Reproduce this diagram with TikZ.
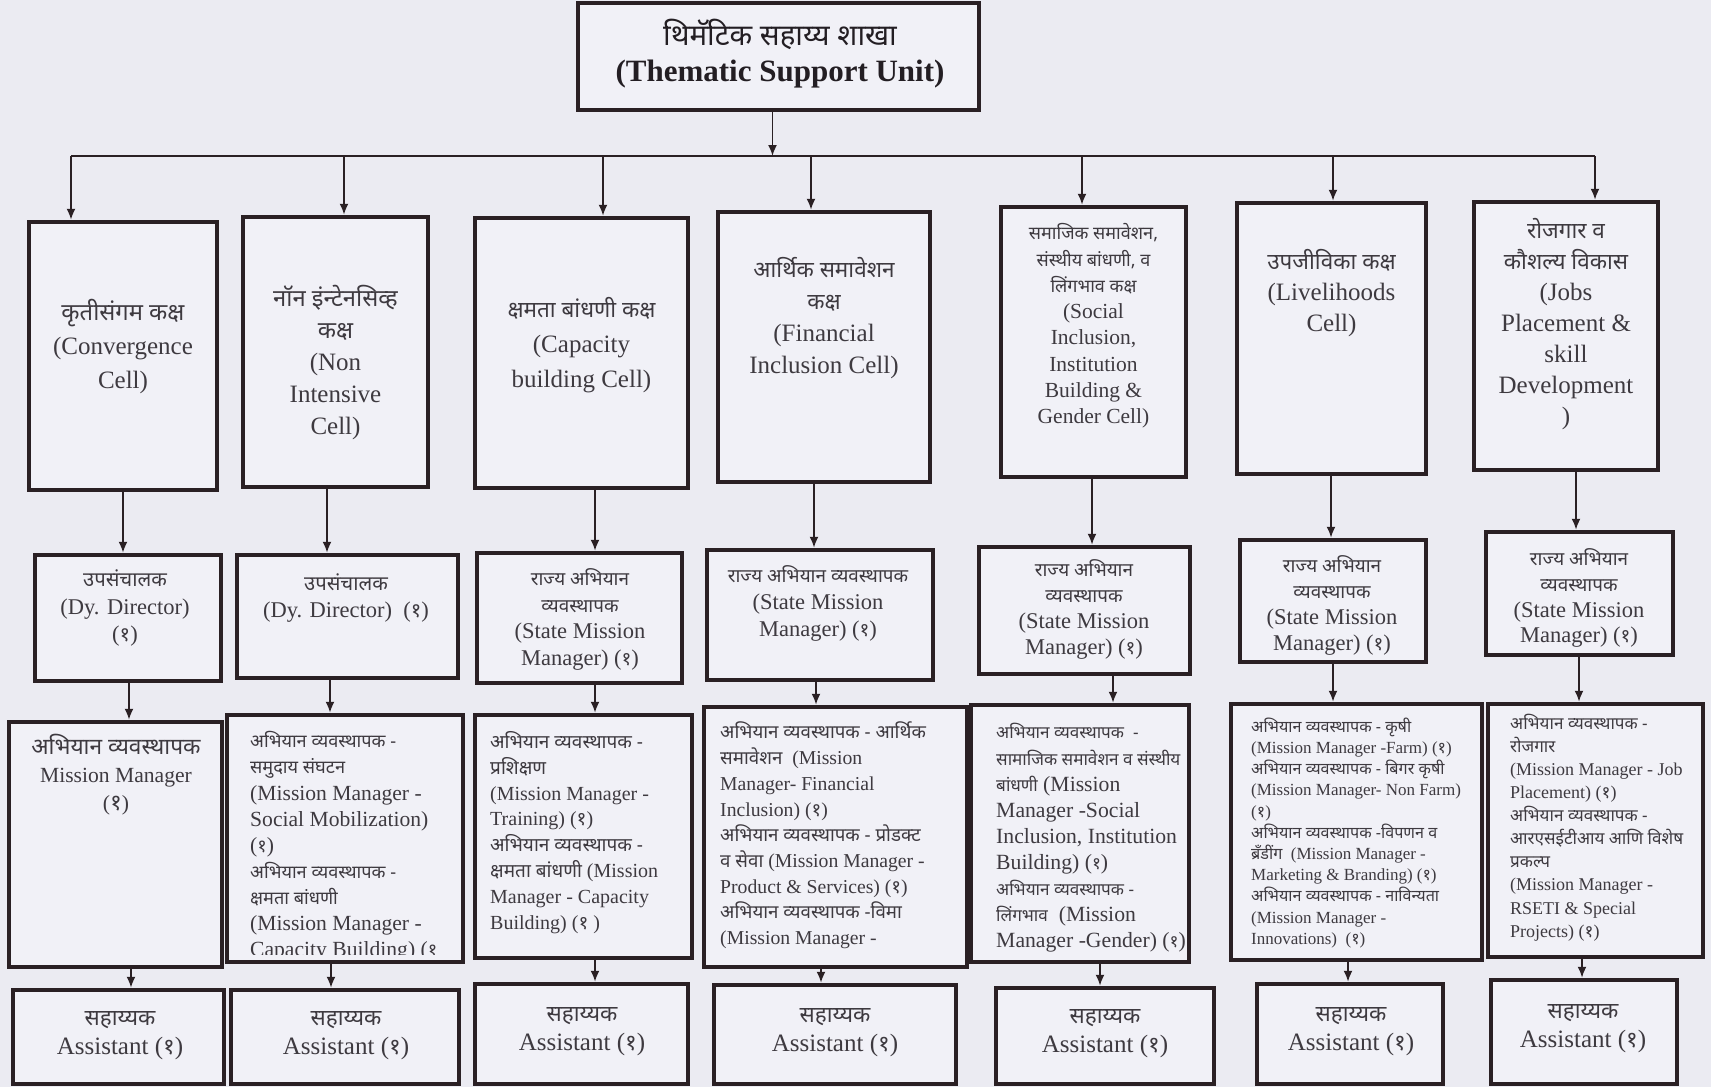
\documentclass[tikz,border=0pt]{standalone}
\usepackage{fontspec}
\setmainfont{Liberation Serif}
\newfontfamily\devfont[Script=Devanagari,Scale=0.9]{Noto Sans}
\newfontfamily\devA[Script=Devanagari,Scale=0.95]{Noto Sans}
\newfontfamily\devL[Script=Devanagari,Scale=1.05]{Noto Sans}
\newfontfamily\devS[Script=Devanagari,Scale=0.84]{Noto Sans}
\newfontfamily\devT[Script=Devanagari,Scale=0.79]{Noto Sans}
\newcommand{\dv}[1]{{\devfont #1}}
\newcommand{\fl}{\rule{0pt}{1em}}
\usetikzlibrary{arrows.meta}
\definecolor{bgc}{RGB}{235,235,242}
\definecolor{boxc}{RGB}{241,241,247}
\definecolor{edgec}{RGB}{42,32,36}
\definecolor{inkc}{RGB}{62,58,64}
\definecolor{headc}{RGB}{35,30,35}

\begin{document}
\begin{tikzpicture}[
    x=1pt, y=-1pt,
    >={Latex[length=11pt,width=9pt]},
    unit/.style={rectangle, draw=edgec, fill=boxc, line width=4.5pt, inner sep=0pt},
    link/.style={draw=edgec, line width=1.8pt},
    txt/.style={inner sep=0pt, text=inkc, anchor=north, align=center},
    txtl/.style={txt, anchor=north west, align=left},
    fsz/.style 2 args={font={\fontsize{#1}{#2}\selectfont\lineskiplimit=-100pt}},
    fszd/.style n args={3}{font={\fontsize{#1}{#2}\selectfont\lineskiplimit=-100pt\let\devfont#3}}
]
\useasboundingbox (0,0) rectangle (1711,1087);
\fill[bgc] (0,0) rectangle (1711,1087);

\node[unit, minimum width=401pt, minimum height=107pt] (tsu) at (778.5,56.5) {};

\node[unit, minimum width=188pt, minimum height=268pt] (cell1) at (123,356) {};
\node[unit, minimum width=185pt, minimum height=270pt] (cell2) at (335.5,352) {};
\node[unit, minimum width=213pt, minimum height=270pt] (cell3) at (581.5,353) {};
\node[unit, minimum width=212pt, minimum height=270pt] (cell4) at (824,347) {};
\node[unit, minimum width=185pt, minimum height=270pt] (cell5) at (1093.5,342) {};
\node[unit, minimum width=189pt, minimum height=271pt] (cell6) at (1331.5,338.5) {};
\node[unit, minimum width=184pt, minimum height=268pt] (cell7) at (1566,336) {};

\node[unit, minimum width=186pt, minimum height=126pt] (head1) at (128,618) {};
\node[unit, minimum width=221pt, minimum height=123pt] (head2) at (347.5,616.5) {};
\node[unit, minimum width=205pt, minimum height=130pt] (head3) at (579.5,618) {};
\node[unit, minimum width=226pt, minimum height=130pt] (head4) at (820,615) {};
\node[unit, minimum width=211pt, minimum height=127pt] (head5) at (1084.5,610.5) {};
\node[unit, minimum width=186pt, minimum height=122pt] (head6) at (1333,601) {};
\node[unit, minimum width=187pt, minimum height=123pt] (head7) at (1579.5,593.5) {};

\node[unit, minimum width=213pt, minimum height=245pt] (mgr1) at (115.5,844.5) {};
\node[unit, minimum width=236pt, minimum height=247pt] (mgr2) at (345,838.5) {};
\node[unit, minimum width=217pt, minimum height=243pt] (mgr3) at (583.5,836.5) {};
\node[unit, minimum width=263pt, minimum height=260pt] (mgr4) at (835.5,837) {};
\node[unit, minimum width=218pt, minimum height=257pt] (mgr5) at (1080,833.5) {};
\node[unit, minimum width=251pt, minimum height=256pt] (mgr6) at (1356.5,832) {};
\node[unit, minimum width=215pt, minimum height=253pt] (mgr7) at (1595.5,830.5) {};

\node[unit, minimum width=211pt, minimum height=94pt] (asst1) at (118.5,1037) {};
\node[unit, minimum width=228pt, minimum height=94pt] (asst2) at (345,1037) {};
\node[unit, minimum width=213pt, minimum height=100pt] (asst3) at (581.5,1034) {};
\node[unit, minimum width=242pt, minimum height=99pt] (asst4) at (835,1034.5) {};
\node[unit, minimum width=218pt, minimum height=96pt] (asst5) at (1105,1036) {};
\node[unit, minimum width=186pt, minimum height=100pt] (asst6) at (1350,1034) {};
\node[unit, minimum width=186pt, minimum height=104pt] (asst7) at (1584,1032) {};

\node[txt, text=headc, font={\fontsize{31}{36}\selectfont\bfseries\lineskiplimit=-100pt\let\devfont\devA}] (tsut) at (780,14)
  {\fl\dv{थिमॅटिक सहाय्य शाखा}\\(Thematic Support Unit)};

\node[txt, fszd={25}{34}{\devA}] (cell1t) at (123,295) {\fl\dv{कृतीसंगम कक्ष}\\(Convergence\\Cell)};
\node[txt, fszd={25}{32}{\devA}] (cell2t) at (335.5,281) {\fl\dv{नॉन इंन्टेनसिव्ह}\\\dv{कक्ष}\\(Non\\Intensive\\Cell)};
\node[txt, fsz={25}{35}] (cell3t) at (581.5,292) {\fl\dv{क्षमता बांधणी कक्ष}\\(Capacity\\building Cell)};
\node[txt, fsz={25}{32}] (cell4t) at (824,252) {\fl\dv{आर्थिक समावेशन}\\\dv{कक्ष}\\(Financial\\Inclusion Cell)};
\node[txt, fszd={21.5}{26.3}{\devS}] (cell5t) at (1093.5,218) {\fl\dv{समाजिक समावेशन,}\\\dv{संस्थीय बांधणी, व}\\\dv{लिंगभाव कक्ष}\\(Social\\Inclusion,\\Institution\\Building \&\\Gender Cell)};
\node[txt, fsz={25}{31}] (cell6t) at (1331.5,244) {\fl\dv{उपजीविका कक्ष}\\(Livelihoods\\Cell)};
\node[txt, fsz={25}{31}] (cell7t) at (1566,213) {\fl\dv{रोजगार व}\\\dv{कौशल्य विकास}\\(Jobs\\Placement \&\\skill\\Development\\)};

\node[txt, fsz={22.5}{27.5}] (head1t) at (125,564) {\fl\dv{उपसंचालक}\\(Dy. Director)\\(\dv{१})};
\node[txt, fsz={22.5}{26.5}] (head2t) at (346,568) {\fl\dv{उपसंचालक}\\(Dy. Director)\ \ (\dv{१})};
\node[txt, fszd={22.5}{26.5}{\devS}] (head3t) at (580,563) {\fl\dv{राज्य अभियान}\\\dv{व्यवस्थापक}\\(State Mission\\Manager) (\dv{१})};
\node[txt, fszd={22.5}{27}{\devS}] (head4t) at (818,560) {\fl\dv{राज्य अभियान व्यवस्थापक}\\(State Mission\\Manager) (\dv{१})};
\node[txt, fszd={22.5}{26}{\devS}] (head5t) at (1084,554) {\fl\dv{राज्य अभियान}\\\dv{व्यवस्थापक}\\(State Mission\\Manager) (\dv{१})};
\node[txt, fszd={22.5}{26}{\devS}] (head6t) at (1332,550) {\fl\dv{राज्य अभियान}\\\dv{व्यवस्थापक}\\(State Mission\\Manager) (\dv{१})};
\node[txt, fszd={22.5}{25.7}{\devS}] (head7t) at (1579,543) {\fl\dv{राज्य अभियान}\\\dv{व्यवस्थापक}\\(State Mission\\Manager) (\dv{१})};

\node[txt, fszd={21.6}{28}{\devL}] (mgr1t) at (116,733) {\fl\dv{अभियान व्यवस्थापक}\\Mission Manager\\(\dv{१})};
\begin{scope}
\clip (mgr2.north west) rectangle ([yshift=10pt]mgr2.south east);
\node[txtl, fszd={21.6}{26.1}{\devS}] (mgr2t) at (250,726) {\fl\dv{अभियान व्यवस्थापक -}\\\dv{समुदाय संघटन}\\(Mission Manager -\\Social Mobilization)\\(\dv{१})\\\dv{अभियान व्यवस्थापक -}\\\dv{क्षमता बांधणी}\\(Mission Manager -\\Capacity Building) (\dv{१}};
\end{scope}
\node[txtl, fszd={20}{25.9}{\devA}] (mgr3t) at (490,728) {\fl\dv{अभियान व्यवस्थापक -}\\\dv{प्रशिक्षण}\\(Mission Manager -\\Training) (\dv{१})\\\dv{अभियान व्यवस्थापक -}\\\dv{क्षमता बांधणी} (Mission\\Manager - Capacity\\Building) (\dv{१} )};
\node[txtl, fszd={19.7}{25.7}{\devA}] (mgr4t) at (720,719) {\fl\dv{अभियान व्यवस्थापक - आर्थिक}\\\dv{समावेशन}\ \ (Mission\\Manager- Financial\\Inclusion) (\dv{१})\\\dv{अभियान व्यवस्थापक - प्रोडक्ट}\\\dv{व सेवा} (Mission Manager -\\Product \& Services) (\dv{१})\\\dv{अभियान व्यवस्थापक -विमा}\\(Mission Manager -};
\node[txtl, fszd={21.7}{26.1}{\devT}] (mgr5t) at (996,717) {\fl\dv{अभियान व्यवस्थापक\ \ -}\\\dv{सामाजिक समावेशन व संस्थीय}\\\dv{बांधणी} (Mission\\Manager -Social\\Inclusion, Institution\\Building) (\dv{१})\\\dv{अभियान व्यवस्थापक -}\\\dv{लिंगभाव}\ \ (Mission\\Manager -Gender) (\dv{१})};
\node[txtl, fszd={17}{21.2}{\devA}] (mgr6t) at (1251,715) {\fl\dv{अभियान व्यवस्थापक - कृषी}\\(Mission Manager -Farm) (\dv{१})\\\dv{अभियान व्यवस्थापक - बिगर कृषी}\\(Mission Manager- Non Farm)\\(\dv{१})\\\dv{अभियान व्यवस्थापक -विपणन व}\\\dv{ब्रँडींग}\ \ (Mission Manager -\\Marketing \& Branding) (\dv{१})\\\dv{अभियान व्यवस्थापक - नाविन्यता}\\(Mission Manager -\\Innovations)\ \ (\dv{१})};
\node[txtl, fszd={18}{23.1}{\devA}] (mgr7t) at (1510,711) {\fl\dv{अभियान व्यवस्थापक -}\\\dv{रोजगार}\\(Mission Manager - Job\\Placement) (\dv{१})\\\dv{अभियान व्यवस्थापक -}\\\dv{आरएसईटीआय आणि विशेष}\\\dv{प्रकल्प}\\(Mission Manager -\\RSETI \& Special\\Projects) (\dv{१})};

\node[txt, fsz={25}{29}] (asst1t) at (120,1000) {\fl\dv{सहाय्यक}\\Assistant (\dv{१})};
\node[txt, fsz={25}{29}] (asst2t) at (346,1000) {\fl\dv{सहाय्यक}\\Assistant (\dv{१})};
\node[txt, fsz={25}{29}] (asst3t) at (582,996) {\fl\dv{सहाय्यक}\\Assistant (\dv{१})};
\node[txt, fsz={25}{29}] (asst4t) at (835,997) {\fl\dv{सहाय्यक}\\Assistant (\dv{१})};
\node[txt, fsz={25}{29}] (asst5t) at (1105,998) {\fl\dv{सहाय्यक}\\Assistant (\dv{१})};
\node[txt, fsz={25}{29}] (asst6t) at (1351,996) {\fl\dv{सहाय्यक}\\Assistant (\dv{१})};
\node[txt, fsz={25}{29}] (asst7t) at (1583,993) {\fl\dv{सहाय्यक}\\Assistant (\dv{१})};

\foreach \i/\xb in {1/71, 2/344, 3/603, 4/811, 5/1082, 6/1333, 7/1595} {
  \coordinate (bus\i) at (\xb,156);
  \draw[link,->] (bus\i) -- (bus\i |- cell\i.north);
}
\draw[link] (bus1) -- (bus7);
\draw[link,->] ([xshift=-6pt]tsu.south) -- ([xshift=-6pt]tsu.south |- bus1);

\foreach \i/\xa/\xb/\xc in {1/123/129/131, 2/327/330/331, 3/595/595/595, 4/814/816/821, 5/1092/1113/1100, 6/1331/1333/1348, 7/1576/1579/1582} {
  \draw[link,->] (\xa,0 |- cell\i.south) -- (\xa,0 |- head\i.north);
  \draw[link,->] (\xb,0 |- head\i.south) -- (\xb,0 |- mgr\i.north);
  \draw[link,->] (\xc,0 |- mgr\i.south) -- (\xc,0 |- asst\i.north);
}
\end{tikzpicture}
\end{document}
